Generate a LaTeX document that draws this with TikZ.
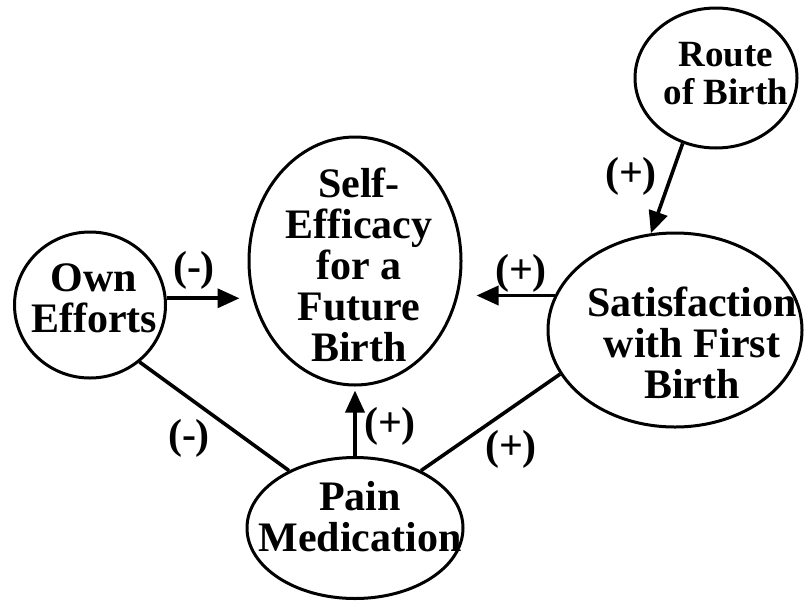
\documentclass[tikz,border=0pt]{standalone}
\usepackage{fontspec}
\setmainfont{Liberation Serif}
\usetikzlibrary{shapes.geometric,arrows.meta}

\begin{document}
\begin{tikzpicture}[x=1pt,y=-1pt,
  var/.style={draw, ellipse, line width=3pt, inner sep=0pt},
  big/.style={font=\fontsize{42}{41}\selectfont\bfseries, align=center},
  small/.style={font=\fontsize{37}{38}\selectfont\bfseries, align=center},
  sign/.style={font=\fontsize{42}{41}\selectfont\bfseries},
  arr/.style={line width=3.6pt, -{Triangle[length=22pt,width=19pt]}},
  link/.style={line width=3.6pt}]

\useasboundingbox (0,0) rectangle (805,600);

% Define variables
\node[var, minimum width=212pt, minimum height=248pt,
  label={[big, name=selfText, xshift=4pt, yshift=-4pt]center:Self-\\Efficacy\\for a\\Future\\Birth}] (self) at (355,261) {};
\node[var, minimum width=151pt, minimum height=146pt,
  label={[big, name=ownText, xshift=4pt, yshift=7pt]center:Own\\Efforts}] (own) at (90,305) {};
\node[var, minimum width=162pt, minimum height=140pt,
  label={[small, name=routeText, xshift=10pt, yshift=4pt]center:Route\\of Birth}] (route) at (716,78) {};
\node[var, minimum width=216pt, minimum height=141pt,
  label={[big, name=painText, xshift=5pt, yshift=11pt]center:Pain\\Medication}] (pain) at (355,528) {};
\node[var, minimum width=254pt, minimum height=194pt,
  label={[big, name=satText, xshift=17pt, yshift=-13pt]center:Satisfaction\\with First\\Birth}] (sat) at (675,330) {};

% Draw paths
\draw[arr, shorten >=8pt] (own.5) -- (own.5 -| self.west);
\draw[arr, shorten >=14pt] (sat.164) -- (sat.164 -| self.east);
\draw[arr, shorten >=4pt] (pain.north) -- (self.south);
\draw[arr] (route.243) -- (sat.104);
\draw[link] (pain.139) -- (own.-49);
\draw[link] (pain.41) -- (sat.201);

% Signs
\node[sign] (ownSign) at (194,270) {(-)};
\node[sign] (satSign) at (521,273) {(+)};
\node[sign] (painSign) at (390,426) {(+)};
\node[sign] (painSatSign) at (511,449) {(+)};
\node[sign] (painOwnSign) at (189,438) {(-)};
\node[sign] (routeSign) at (631,176) {(+)};

\end{tikzpicture}
\end{document}
